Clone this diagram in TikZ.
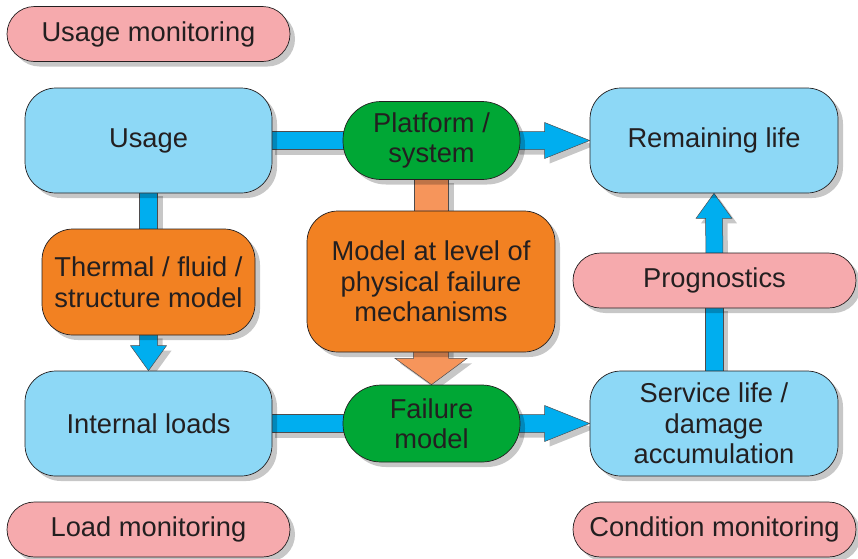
\documentclass[tikz,border=0pt]{standalone}
\usepackage{fontspec}
\setmainfont{Liberation Sans}
\usetikzlibrary{calc,shadows,backgrounds}
\definecolor{lblue}{HTML}{8DD8F6}
\definecolor{dgreen}{HTML}{00A735}
\definecolor{orng}{HTML}{F28122}
\definecolor{pnk}{HTML}{F6AAAD}
\definecolor{abl}{HTML}{00AEEF}
\definecolor{lorng}{HTML}{F6955B}
\definecolor{txt}{HTML}{231F20}
\tikzset{
  shd/.style={drop shadow={shadow xshift=5pt,shadow yshift=-5pt,fill=black,opacity=0.22}},
  boxbase/.style={shd,draw=txt,line width=0.7pt,rectangle,inner sep=0pt,align=center,text=txt,
    font=\fontsize{27.3}{30.5}\selectfont},
  bluebox/.style={boxbase,fill=lblue,minimum width=247pt,minimum height=105pt,rounded corners=31pt},
  greenbox/.style={boxbase,fill=dgreen,minimum width=177pt,minimum height=78pt,rounded corners=38pt},
  orangebox/.style={boxbase,fill=orng,rounded corners=31pt},
  pinkbox/.style={boxbase,fill=pnk,minimum width=283pt,minimum height=55pt,rounded corners=27.5pt},
  bluearrow/.style={shd,fill=abl,draw=txt!80,line width=0.5pt},
  orarrow/.style={shd,fill=lorng,draw=txt!80,line width=0.5pt},
}
\begin{document}
\begin{tikzpicture}[x=1pt,y=-1pt]
\useasboundingbox (0,0) rectangle (858,558);
% nodes
\node[pinkbox] (umon) at (148.5,34) {Usage monitoring};
\node[bluebox] (usage) at (148.5,140.5) {Usage};
\node[greenbox] (plat) at (431.5,140.5) {Platform /\\system};
\node[bluebox,minimum width=248pt] (rem) at (714,140.5) {Remaining life};
\node[orangebox,minimum width=213pt,minimum height=106pt] (therm) at (148.5,282) {Thermal / fluid /\\structure model};
\node[orangebox,minimum width=248pt,minimum height=141pt] (model) at (431,281.5) {Model at level of\\physical failure\\mechanisms};
\node[pinkbox] (prog) at (714.5,280.5) {Prognostics};
\node[bluebox] (intl) at (148.5,423.5) {Internal loads};
\node[greenbox,minimum height=77pt] (fail) at (431.5,423.5) {Failure\\model};
\node[bluebox,minimum width=248pt] (serv) at (714,423.5) {Service life /\\damage\\accumulation};
\node[pinkbox] (lmon) at (148.5,529.5) {Load monitoring};
\node[pinkbox] (cmon) at (714.5,529.5) {Condition monitoring};
% connectors
\begin{scope}[on background layer]
\path[bluearrow] ($(usage.east)+(-2,-9)$) rectangle ($(plat.west)+(6,9)$);
\path[bluearrow] ($(plat.east)+(-6,-9)$) -- ($(rem.west)+(-45,-9)$) -- ($(rem.west)+(-45,-18)$) -- (rem.west)
  -- ($(rem.west)+(-45,18)$) -- ($(rem.west)+(-45,9)$) -- ($(plat.east)+(-6,9)$) -- cycle;
\path[bluearrow] ($(usage.south)+(-9,-2)$) rectangle ($(therm.north)+(9,2)$);
\path[bluearrow] ($(therm.south)+(-9,-2)$) -- ($(intl.north)+(-9,-25)$) -- ($(intl.north)+(-18,-25)$) -- (intl.north)
  -- ($(intl.north)+(18,-25)$) -- ($(intl.north)+(9,-25)$) -- ($(therm.south)+(9,-2)$) -- cycle;
\path[bluearrow] ($(intl.east)+(-2,-9)$) rectangle ($(fail.west)+(6,9)$);
\path[bluearrow] ($(fail.east)+(-6,-9)$) -- ($(serv.west)+(-45,-9)$) -- ($(serv.west)+(-45,-18)$) -- (serv.west)
  -- ($(serv.west)+(-45,18)$) -- ($(serv.west)+(-45,9)$) -- ($(fail.east)+(-6,9)$) -- cycle;
\path[bluearrow] ($(serv.north)+(-8.5,2)$) rectangle ($(prog.south)+(8.5,-2)$);
\path[bluearrow] ($(prog.north)+(-8.5,2)$) -- ($(rem.south)+(-8.5,25)$) -- ($(rem.south)+(-18,25)$) -- (rem.south)
  -- ($(rem.south)+(18,25)$) -- ($(rem.south)+(8.5,25)$) -- ($(prog.north)+(8.5,2)$) -- cycle;
\path[orarrow] ($(plat.south)+(-17.5,-2)$) rectangle ($(model.north)+(17.5,2)$);
\path[orarrow] ($(model.south)+(-17.5,-5)$) -- ($(model.south)+(-17.5,6)$) -- ($(model.south)+(-36,6)$) -- (fail.north)
  -- ($(model.south)+(36,6)$) -- ($(model.south)+(17.5,6)$) -- ($(model.south)+(17.5,-5)$) -- cycle;
\end{scope}
\end{tikzpicture}
\end{document}
